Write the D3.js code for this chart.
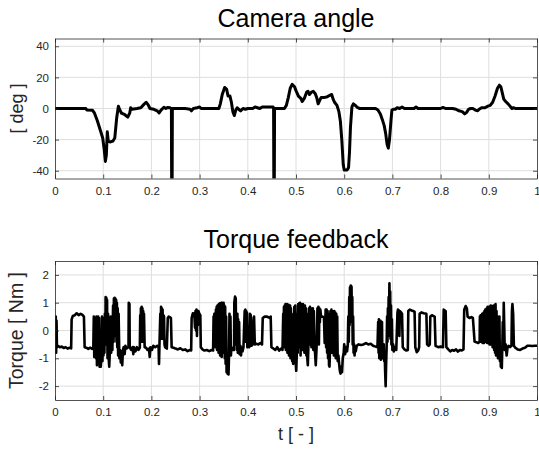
<!DOCTYPE html>
<html>
<head>
<meta charset="utf-8">
<script src="https://cdn.jsdelivr.net/npm/d3@7"></script>
<style>
  body { margin: 0; background: #fff; }
  svg { display: block; font-family: "Liberation Sans", Arial, sans-serif; }
</style>
</head>
<body>
<div id="chart"></div>
<script>
const width = 539,
  height = 449;

// x ticks shared by both panels
const tTicks = [0, 0.1, 0.2, 0.3, 0.4, 0.5, 0.6, 0.7, 0.8, 0.9, 1];
const tTickLabels = ["0", "0.1", "0.2", "0.3", "0.4", "0.5", "0.6", "0.7", "0.8", "0.9", "1"];

const angleTicks = [-40, -20, 0, 20, 40];
const angleTickLabels = ["-40", "-20", "0", "20", "40"];
const torqueTicks = [-2, -1, 0, 1, 2];
const torqueTickLabels = ["-2", "-1", "0", "1", "2"];

// camera angle [deg] vs t
const cameraAngle = [
  [0, 0], [0.064, 0], [0.066, -1], [0.078, -1.2], [0.082, -3], [0.088, -8], [0.094, -14], [0.099, -19],
  [0.102, -26], [0.1045, -34], [0.1065, -30], [0.1085, -15], [0.1105, -21], [0.114, -21.5], [0.12, -21],
  [0.124, -19], [0.128, -6], [0.1315, 1.5], [0.1345, -1], [0.138, -3], [0.145, -4], [0.151, -5.5],
  [0.155, -3], [0.157, 0.5], [0.16, -0.5], [0.17, 0], [0.178, 0.5], [0.184, 2.5], [0.189, 4], [0.193, 2.5],
  [0.197, 0], [0.205, -0.5], [0.212, -1.5], [0.216, -2.8], [0.22, -1], [0.226, 0.8], [0.23, 0], [0.234, 0.7],
  [0.2385, 0.5], [0.2415, 0], [0.2425, -100], [0.2435, 0], [0.27, 0], [0.28, -0.5], [0.283, -1.5], [0.287, 0],
  [0.295, 0.5], [0.3, 1], [0.303, 0], [0.34, 0], [0.343, 3], [0.347, 9], [0.352, 13.5], [0.356, 12.5],
  [0.359, 8], [0.363, 8], [0.366, 4], [0.369, -2], [0.372, -4.5], [0.375, -1], [0.378, 0.5], [0.381, -0.5],
  [0.385, -1.5], [0.39, 0], [0.395, -0.5], [0.4, 0], [0.41, 0], [0.415, 1], [0.42, 0.5], [0.425, 0], [0.43, 1],
  [0.445, 1], [0.4525, 1], [0.4535, 0], [0.4545, -100], [0.4555, 0], [0.476, 0], [0.48, 2], [0.484, 7],
  [0.488, 13], [0.492, 15.5], [0.497, 14], [0.5, 11.5], [0.505, 8], [0.51, 6.5], [0.513, 4.5], [0.518, 7],
  [0.522, 10.5], [0.525, 11], [0.528, 9], [0.532, 10.5], [0.536, 11], [0.54, 9.5], [0.543, 7], [0.546, 3],
  [0.549, 5], [0.552, 7], [0.558, 7], [0.565, 7.5], [0.57, 8.5], [0.574, 9], [0.577, 6], [0.58, 4], [0.585, 2],
  [0.589, -2], [0.592, -8], [0.595, -20], [0.598, -36], [0.6, -39.5], [0.606, -39.5], [0.609, -38],
  [0.611, -28], [0.613, -12], [0.616, 1], [0.619, 3], [0.623, 2], [0.628, 0.5], [0.632, 0], [0.665, 0],
  [0.67, -1], [0.675, -3.5], [0.679, -7], [0.683, -11], [0.686, -16], [0.689, -23], [0.6915, -25.5],
  [0.694, -20], [0.697, -8], [0.699, -1], [0.702, -0.5], [0.706, -0.5], [0.71, 0.5], [0.715, 0], [0.72, 1],
  [0.725, 0], [0.745, 0], [0.749, 1], [0.753, 0], [0.8, 0], [0.805, 0.7], [0.81, 0], [0.825, 0], [0.832, -0.5],
  [0.838, -1.5], [0.845, -2], [0.85, -3.5], [0.854, -2.5], [0.858, -0.5], [0.862, 0], [0.867, 0], [0.872, -1],
  [0.877, -1.5], [0.88, -0.5], [0.885, 0.5], [0.892, 0.5], [0.898, 1.5], [0.903, 2], [0.908, 4], [0.913, 8],
  [0.918, 13], [0.922, 15], [0.925, 14], [0.928, 10], [0.931, 6], [0.935, 4.5], [0.94, 3], [0.944, 1.5],
  [0.948, 0], [0.952, 0.5], [0.955, 0], [1, 0]
];

// torque feedback [Nm] vs t
const torque = [
  [0, 0.45], [0.0008, -0.75], [0.0016, 0.5], [0.0024, -0.8], [0.0032, 0.35], [0.004, -0.6], [0.006, -0.55],
  [0.01, -0.6], [0.014, -0.58], [0.018, -0.63], [0.022, -0.6], [0.026, -0.65], [0.03, -0.62], [0.0335, -0.64],
  [0.0345, 0.4], [0.037, 0.52], [0.041, 0.55], [0.045, 0.62], [0.049, 0.55], [0.053, 0.6], [0.057, 0.56],
  [0.06, 0.5], [0.0615, -0.6], [0.065, -0.62], [0.069, -0.66], [0.073, -0.62], [0.077, -0.66],
  [0.0795, -0.6], [0.0805, 0.5], [0.0815, -0.95], [0.083, -0.7], [0.084, 0.45], [0.085, -1.0], [0.086, 0.5],
  [0.087, -1.25], [0.0885, -0.6], [0.0895, 0.5], [0.0905, -1.1], [0.0915, 0.45], [0.0925, -1.3], [0.094, -0.8],
  [0.095, -1.3], [0.0965, -0.9], [0.0975, 0.5], [0.0985, -1.1], [0.0995, 0.45], [0.1005, -0.9], [0.1015, 0.3],
  [0.1025, -0.8], [0.1035, 0.6], [0.1045, -0.5], [0.105, 1.2], [0.1058, 0.2], [0.1065, 1.18], [0.1072, -0.3],
  [0.108, 1.1], [0.109, -1.0], [0.11, 0.6], [0.111, -0.9], [0.1125, -1.3], [0.114, -0.7], [0.1155, 0.5],
  [0.1165, -0.8], [0.1175, 0.4], [0.119, -0.7], [0.1205, 0.9], [0.1215, -0.4], [0.1222, 1.15], [0.123, 0.1],
  [0.1237, 1.18], [0.1245, -0.2], [0.1252, 1.15], [0.126, 0.3], [0.1268, 1.1], [0.1276, -0.4], [0.1284, 1.0],
  [0.1292, -0.6], [0.13, 0.8], [0.131, -0.9], [0.132, 0.6], [0.1335, -1.0], [0.135, -0.7], [0.1365, -1.15],
  [0.138, -0.75], [0.1395, -1.25], [0.141, -0.7], [0.1425, -0.6], [0.1445, -0.85], [0.146, -0.55],
  [0.148, -0.65], [0.1525, -0.6], [0.153, 1.0], [0.1545, 0.95], [0.155, -0.6], [0.158, -0.7], [0.161, -0.6],
  [0.1625, -0.85], [0.164, -0.6], [0.167, -0.75], [0.17, -0.6], [0.173, -0.7], [0.176, -0.62],
  [0.1768, 0.55], [0.1775, -0.3], [0.1782, 0.8], [0.179, -0.4], [0.1798, 0.85], [0.1806, 0.0], [0.1814, 0.8],
  [0.1822, -0.4], [0.183, 0.7], [0.1838, -0.2], [0.1846, 0.6], [0.186, -0.6], [0.189, -0.62], [0.192, -0.7],
  [0.195, -0.65], [0.1965, -0.95], [0.198, -0.6], [0.201, -0.7], [0.204, -0.55], [0.208, -0.6], [0.212, -0.55],
  [0.215, -0.6], [0.2158, -1.2], [0.2166, -0.6], [0.2185, 0.6], [0.2192, -0.3], [0.22, 0.85], [0.2208, 0.3],
  [0.2216, 0.8], [0.2224, -0.3], [0.2232, 0.75], [0.224, 0.1], [0.225, 0.55], [0.2262, 0.5], [0.2272, -0.5],
  [0.2285, -0.6], [0.232, -0.65], [0.234, 0.45], [0.236, 0.5], [0.238, 0.48], [0.2405, 0.45], [0.242, -0.6],
  [0.246, -0.62], [0.25, -0.65], [0.255, -0.68], [0.26, -0.64], [0.265, -0.7], [0.27, -0.68], [0.275, -0.74],
  [0.28, -0.7], [0.2825, -0.72], [0.2835, 0.45], [0.286, 0.62], [0.289, 0.6], [0.2905, 0.1], [0.2915, 0.7],
  [0.2925, 0.0], [0.2935, 0.75], [0.2945, -0.2], [0.2955, 0.72], [0.2965, 0.2], [0.2975, 0.7], [0.2995, 0.6],
  [0.3015, 0.55], [0.3025, -0.6], [0.306, -0.68], [0.31, -0.72], [0.315, -0.7], [0.32, -0.74], [0.325, -0.7],
  [0.328, -0.72], [0.329, 0.5], [0.3298, -0.4], [0.3306, 0.6], [0.3314, -0.5], [0.3322, 0.55], [0.333, -0.6],
  [0.3338, 0.75], [0.3346, -0.5], [0.3354, 0.85], [0.3362, -0.7], [0.337, 0.9], [0.3378, -0.4], [0.3386, 0.92],
  [0.3394, -0.8], [0.3402, 0.95], [0.341, -0.5], [0.3418, 0.98], [0.3426, -0.9], [0.3434, 0.9], [0.3442, -0.6],
  [0.345, 1.0], [0.3458, -0.95], [0.3466, 1.0], [0.3474, -0.5], [0.3482, 0.95], [0.349, -0.8], [0.3498, 1.0],
  [0.3506, -0.6], [0.3514, 0.9], [0.3522, -1.0], [0.353, 0.85], [0.354, -1.2], [0.355, 0.5], [0.356, -1.5],
  [0.357, -1.1], [0.358, -1.55], [0.359, -1.2], [0.36, -1.58], [0.361, -0.9], [0.362, 0.6], [0.363, -0.8],
  [0.364, 0.5], [0.365, -0.9], [0.366, -0.6], [0.368, -0.7], [0.3715, -0.7], [0.372, 1.0], [0.3735, 1.22],
  [0.375, 1.15], [0.3758, -0.5], [0.3768, 0.5], [0.3776, -0.7], [0.3784, 0.6], [0.3792, -0.8], [0.38, 0.4],
  [0.381, -0.6], [0.382, 0.3], [0.383, -0.85], [0.3845, -0.55], [0.386, -0.9], [0.387, -0.6], [0.389, -0.75],
  [0.391, -0.6], [0.3935, 0.7], [0.395, 0.75], [0.3958, -0.4], [0.3966, 0.7], [0.3974, -0.3], [0.3982, 0.65],
  [0.399, -0.6], [0.401, -0.55], [0.403, -0.6], [0.4045, 0.6], [0.406, 0.55], [0.4075, -0.55], [0.41, -0.5],
  [0.412, 0.45], [0.413, 0.5], [0.4145, -0.5], [0.418, -0.48], [0.422, -0.5], [0.426, -0.45], [0.4295, -0.5],
  [0.431, 0.45], [0.435, 0.5], [0.44, 0.5], [0.445, 0.45], [0.4475, 0.5], [0.449, -0.6], [0.453, -0.65],
  [0.457, -0.7], [0.461, -0.6], [0.465, -0.72], [0.469, -0.65], [0.472, -0.7],
  [0.4735, 0.6], [0.4742, -0.4], [0.475, 0.85], [0.4758, -0.6], [0.4766, 0.9], [0.4774, -0.3], [0.4782, 0.95],
  [0.479, -0.7], [0.4798, 0.9], [0.4806, -0.4], [0.4814, 0.95], [0.4822, -0.8], [0.483, 0.9], [0.4838, -0.5],
  [0.4846, 0.92], [0.4854, -0.9], [0.4862, 0.85], [0.487, -0.6], [0.4878, 0.9], [0.4886, -1.0], [0.4894, 0.8],
  [0.4902, -0.7], [0.491, 0.6], [0.492, -1.1], [0.493, 0.4], [0.494, -1.2], [0.4955, -0.8], [0.4965, 0.85],
  [0.4975, -1.0], [0.4985, 0.9], [0.4995, -1.2], [0.5005, -1.45], [0.5015, -0.9], [0.5025, 0.6],
  [0.5035, -0.8], [0.5045, 0.95], [0.5055, -0.6], [0.5065, 0.98], [0.5075, -0.5], [0.5085, 1.0],
  [0.5095, -0.9], [0.5105, 0.95], [0.5115, -0.4], [0.5125, 0.9], [0.5135, -0.7], [0.5145, 0.95],
  [0.5155, -0.3], [0.5165, 0.85], [0.5175, -0.8], [0.5185, 0.9], [0.5195, -0.5], [0.5205, 0.8],
  [0.5215, -0.9], [0.5225, 0.6], [0.5235, -1.0], [0.5245, -1.25], [0.5255, -0.7], [0.527, 0.8],
  [0.528, -0.5], [0.529, 0.85], [0.53, -0.3], [0.531, 0.8], [0.532, -0.6], [0.533, 0.75], [0.534, -0.4],
  [0.535, 0.8], [0.536, -0.7], [0.537, 0.7], [0.538, -0.5], [0.5395, -0.8], [0.541, -1.25], [0.5425, -0.7],
  [0.5445, 0.8], [0.5455, -0.4], [0.5465, 0.85], [0.5475, -0.5], [0.5485, 0.8], [0.5495, 0.3], [0.5505, 0.75],
  [0.552, 0.5], [0.555, 0.5], [0.558, 0.48], [0.5595, -0.45], [0.5615, 0.75], [0.5625, -0.6], [0.5635, 0.75],
  [0.5645, -0.8], [0.5655, 0.7], [0.5665, -1.0], [0.5675, 0.6], [0.5685, -1.25], [0.5695, -1.3],
  [0.5705, -0.7], [0.5715, 0.7], [0.5725, -0.5], [0.5735, 0.75], [0.5745, -0.8], [0.5755, 0.7],
  [0.5765, -0.6], [0.5775, 0.65], [0.5785, -0.9], [0.5795, 0.7], [0.5805, -0.7], [0.5815, 0.65],
  [0.5825, -1.0], [0.5835, 0.6], [0.5845, -0.8], [0.5855, 0.5], [0.5865, -1.1], [0.588, -0.9], [0.5895, -1.2],
  [0.591, -1.45], [0.5925, -1.55], [0.594, -1.3], [0.5955, -1.5], [0.597, -1.0], [0.599, -0.8], [0.6, -0.5],
  [0.602, -0.85], [0.604, -0.6], [0.606, -0.75], [0.6075, -0.5], [0.6085, 0.5], [0.6095, -0.4], [0.6105, 1.2],
  [0.6112, 0.2], [0.612, 1.55], [0.6128, 0.5], [0.6136, 1.62], [0.6144, 0.8], [0.6152, 1.58], [0.616, 0.3],
  [0.6168, 1.2], [0.6176, -0.5], [0.6185, 0.5], [0.6195, -0.8], [0.6205, -0.5], [0.6215, -0.9], [0.6225, -0.6],
  [0.624, -0.75], [0.626, -0.55], [0.63, -0.5], [0.635, -0.52], [0.64, -0.5], [0.645, -0.45], [0.65, -0.5],
  [0.655, -0.48], [0.66, -0.55], [0.665, -0.58], [0.669, -0.6], [0.6705, 0.3], [0.6713, -0.8], [0.672, 0.4],
  [0.6728, -1.0], [0.6736, 0.2], [0.6744, -0.9], [0.6752, 0.35], [0.676, -1.05], [0.6768, 0.1], [0.6776, -0.85],
  [0.6784, 0.3], [0.6792, -1.0], [0.68, -0.6], [0.681, -0.9], [0.682, -0.5], [0.683, -1.1], [0.684, -0.8],
  [0.685, -1.5], [0.686, -2.0], [0.687, -1.2], [0.688, -0.6], [0.689, 0.5], [0.6898, -0.4], [0.6906, 0.8],
  [0.6914, -0.2], [0.6922, 1.2], [0.693, 0.4], [0.6938, 1.7], [0.6946, 0.6], [0.6954, 1.4], [0.6962, -0.3],
  [0.697, 0.9], [0.698, -0.5], [0.699, 0.4], [0.7, -0.7], [0.7015, -0.5], [0.703, -0.75], [0.705, -0.6],
  [0.708, -0.7], [0.7105, 0.65], [0.7115, 0.75], [0.7135, 0.72], [0.7145, -0.2], [0.7155, 0.7], [0.718, 0.65],
  [0.72, 0.6], [0.7215, -0.6], [0.725, -0.68], [0.729, -0.72], [0.732, -0.7], [0.733, 0.7], [0.736, 0.75],
  [0.74, 0.72], [0.743, 0.7], [0.746, 0.68], [0.7475, -0.6], [0.7505, -0.78], [0.7535, -0.72], [0.7555, -0.6],
  [0.7565, 0.6], [0.76, 0.65], [0.765, 0.62], [0.7705, 0.6], [0.772, -0.5], [0.775, -0.55], [0.7775, -0.5],
  [0.7787, 0.5], [0.782, 0.55], [0.785, 0.52], [0.7877, 0.5], [0.7895, -0.55], [0.795, -0.6], [0.8, -0.58],
  [0.805, -0.6], [0.8064, 0.75], [0.8085, 0.72], [0.8105, 0.7], [0.812, -0.6], [0.816, -0.68], [0.82, -0.75],
  [0.824, -0.7], [0.828, -0.73], [0.832, -0.68], [0.836, -0.76], [0.84, -0.7], [0.844, -0.72], [0.8475, -0.68],
  [0.849, 0.75], [0.852, 0.88], [0.8545, 0.8], [0.856, 0.5], [0.86, 0.45], [0.864, 0.48], [0.867, 0.45],
  [0.8705, -0.4], [0.874, -0.42], [0.878, -0.45], [0.881, -0.4], [0.8815, 0.5], [0.8823, -0.3], [0.8831, 0.55],
  [0.8839, -0.4], [0.8847, 0.55], [0.8855, -0.2], [0.8863, 0.6], [0.8871, -0.45], [0.8879, 0.55],
  [0.8887, -0.3], [0.8895, 0.65], [0.8903, -0.45], [0.8911, 0.7], [0.8919, -0.35], [0.8927, 0.75],
  [0.8935, -0.4], [0.8943, 0.7], [0.8951, -0.3], [0.8959, 0.8], [0.8967, -0.45], [0.8975, 0.85],
  [0.8983, -0.3], [0.8991, 0.8], [0.8999, -0.45], [0.9007, 0.85], [0.9015, -0.5], [0.9023, 0.85],
  [0.9031, -0.3], [0.9039, 0.9], [0.9047, -0.5], [0.9055, 0.85], [0.9063, -0.4], [0.9071, 0.88],
  [0.9079, -0.6], [0.9087, 0.85], [0.9095, -0.5], [0.9103, 0.9], [0.9111, -0.7], [0.912, 0.8], [0.913, -0.8],
  [0.914, 0.95], [0.915, -0.9], [0.916, 0.7], [0.917, -0.6], [0.918, 0.5], [0.919, -1.0], [0.92, 0.3],
  [0.921, -0.8], [0.922, 0.5], [0.923, -1.1], [0.924, -0.7], [0.925, -1.3], [0.926, -0.9], [0.927, -1.35],
  [0.928, -0.6], [0.929, 0.3], [0.93, -0.5], [0.931, 1.0], [0.932, 0.2], [0.933, -0.7], [0.935, -0.5],
  [0.937, -0.9], [0.939, -0.6], [0.941, -0.55], [0.944, -0.6], [0.947, -0.55], [0.948, 0.7], [0.949, 0.95],
  [0.9505, 0.6], [0.952, -0.55], [0.955, -0.62], [0.96, -0.68], [0.965, -0.7], [0.97, -0.65], [0.975, -0.62],
  [0.978, -0.58], [0.98, -0.55], [0.985, -0.55], [0.99, -0.56], [0.995, -0.55], [1, -0.55]
];

const svg = d3
  .select("#chart")
  .append("svg")
  .attr("width", width)
  .attr("height", height);

svg.append("rect").attr("width", width).attr("height", height).attr("fill", "#fff");

const xRange = [55, 537];

function drawPanel(opts) {
  const { id, top, bottom, yDomain, yTicks, yLabels, data, title, titleY, yLabel, labelSize, lineWidth } = opts;

  const xScale = d3.scaleLinear().domain([0, 1]).range(xRange);
  const yScale = d3.scaleLinear().domain(yDomain).range([bottom, top]);

  const g = svg.append("g").attr("class", "panel-" + id);

  // grid
  g.append("g")
    .selectAll("line")
    .data(tTicks.slice(1, -1))
    .join("line")
    .attr("x1", d => xScale(d))
    .attr("x2", d => xScale(d))
    .attr("y1", top)
    .attr("y2", bottom)
    .attr("stroke", "#dedede");
  g.append("g")
    .selectAll("line")
    .data(yTicks)
    .join("line")
    .attr("x1", xRange[0])
    .attr("x2", xRange[1])
    .attr("y1", d => yScale(d))
    .attr("y2", d => yScale(d))
    .attr("stroke", "#dedede");

  // signal, clipped to the axes box
  svg.append("clipPath")
    .attr("id", "clip-" + id)
    .append("rect")
    .attr("x", xRange[0])
    .attr("y", top)
    .attr("width", xRange[1] - xRange[0])
    .attr("height", bottom - top);

  const line = d3.line().x(d => xScale(d[0])).y(d => yScale(d[1]));
  g.append("path")
    .datum(data)
    .attr("clip-path", `url(#clip-${id})`)
    .attr("fill", "none")
    .attr("stroke", "#000")
    .attr("stroke-width", lineWidth)
    .attr("stroke-linejoin", "round")
    .attr("d", line);

  // axes (MATLAB style: ticks inside, mirrored)
  const tickFmtX = (d, i) => tTickLabels[i];
  const tickFmtY = (d, i) => yLabels[i];

  g.append("g")
    .attr("transform", `translate(0,${bottom})`)
    .call(d3.axisBottom(xScale).tickValues(tTicks).tickFormat(tickFmtX).tickSizeInner(-4).tickSizeOuter(0).tickPadding(8));
  g.append("g")
    .attr("transform", `translate(0,${top})`)
    .call(d3.axisTop(xScale).tickValues(tTicks).tickFormat("").tickSizeInner(-4).tickSizeOuter(0));
  g.append("g")
    .attr("transform", `translate(${xRange[0]},0)`)
    .call(d3.axisLeft(yScale).tickValues(yTicks).tickFormat(tickFmtY).tickSizeInner(-4).tickSizeOuter(0).tickPadding(6));
  g.append("g")
    .attr("transform", `translate(${xRange[1]},0)`)
    .call(d3.axisRight(yScale).tickValues(yTicks).tickFormat("").tickSizeInner(-4).tickSizeOuter(0));

  g.selectAll(".domain, .tick line").attr("stroke", "#262626").attr("stroke-width", 0.8);
  g.selectAll(".tick text")
    .attr("fill", "#262626")
    .style("font-size", "11.5px")
    .style("font-family", '"Liberation Sans", Arial, sans-serif');

  // title
  g.append("text")
    .attr("x", (xRange[0] + xRange[1]) / 2)
    .attr("y", titleY)
    .attr("text-anchor", "middle")
    .attr("fill", "#000")
    .style("font-size", "25px")
    .text(title);

  // y label
  g.append("text")
    .attr("transform", `translate(23,${(top + bottom) / 2}) rotate(-90)`)
    .attr("text-anchor", "middle")
    .attr("fill", "#262626")
    .style("font-size", labelSize)
    .text(yLabel);
}

drawPanel({
  id: "angle",
  top: 38.5,
  bottom: 178.5,
  yDomain: [-45, 45],
  yTicks: angleTicks,
  yLabels: angleTickLabels,
  data: cameraAngle,
  title: "Camera angle",
  titleY: 27,
  yLabel: "[ deg ]",
  labelSize: "18px",
  lineWidth: 3
});

drawPanel({
  id: "torque",
  top: 261,
  bottom: 400,
  yDomain: [-2.5, 2.5],
  yTicks: torqueTicks,
  yLabels: torqueTickLabels,
  data: torque,
  title: "Torque feedback",
  titleY: 248,
  yLabel: "Torque [ Nm ]",
  labelSize: "19.5px",
  lineWidth: 2.6
});

// x label
svg.append("text")
  .attr("x", (xRange[0] + xRange[1]) / 2)
  .attr("y", 440)
  .attr("text-anchor", "middle")
  .attr("fill", "#262626")
  .style("font-size", "18px")
  .text("t [ - ]");
</script>
</body>
</html>
